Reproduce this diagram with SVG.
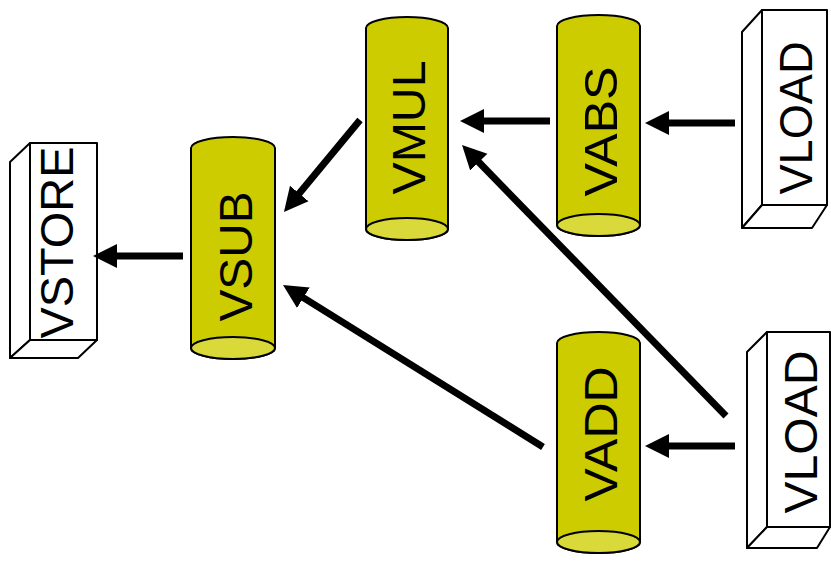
<svg xmlns="http://www.w3.org/2000/svg" width="831" height="573" viewBox="0 0 831 573">
  <style>
    .box { fill: #ffffff; stroke: #000000; stroke-width: 2; stroke-linejoin: round; }
    .can { fill: #cccc00; stroke: #000000; stroke-width: 2; }
    .cap { fill: #d9d93a; stroke: #000000; stroke-width: 2; }
    .lbl { font-family: "Liberation Sans", Arial, sans-serif; font-size: 46px; fill: #000000; text-anchor: middle; }
    .edge { stroke: #000000; stroke-width: 7; fill: none; marker-end: url(#head); }
  </style>
  <defs>
    <marker id="head" markerUnits="userSpaceOnUse" markerWidth="26" markerHeight="26" viewBox="0 -13 26 26" refX="4" refY="0" orient="auto">
      <path d="M0,-12 L24,0 L0,12 Z" fill="#000000"/>
    </marker>
  </defs>

  <!-- storage blocks (extruded boxes) -->
  <g id="vstore">
    <path class="box" d="M30,143 L10,162 L10,358 L30,340 Z"/>
    <path class="box" d="M30,340 L97,340 L78,358 L10,358 Z"/>
    <rect class="box" x="30" y="143" width="67" height="197"/>
    <text class="lbl" transform="translate(73,242.5) rotate(-90)" textLength="192" lengthAdjust="spacingAndGlyphs">VSTORE</text>
  </g>

  <g id="vload1">
    <path class="box" d="M762,10 L742,32 L742,228 L762,205 Z"/>
    <path class="box" d="M762,205 L827,205 L812,228 L742,228 Z"/>
    <rect class="box" x="762" y="10" width="65" height="195"/>
    <text class="lbl" transform="translate(812,118) rotate(-90)" textLength="153" lengthAdjust="spacingAndGlyphs">VLOAD</text>
  </g>

  <g id="vload2">
    <path class="box" d="M767,332 L747,352 L747,548 L767,527 Z"/>
    <path class="box" d="M767,527 L830,527 L817,548 L747,548 Z"/>
    <rect class="box" x="767" y="332" width="63" height="195"/>
    <text class="lbl" transform="translate(817,432) rotate(-90)" textLength="163" lengthAdjust="spacingAndGlyphs">VLOAD</text>
  </g>

  <!-- operation cylinders -->
  <g id="vsub">
    <path class="can" d="M191,148 A42,11 0 0 1 275,148 L275,348 A42,11 0 0 1 191,348 Z"/>
    <ellipse class="cap" cx="233" cy="348" rx="42" ry="11"/>
    <text class="lbl" transform="translate(252,256.5) rotate(-90)" textLength="130" lengthAdjust="spacingAndGlyphs">VSUB</text>
  </g>

  <g id="vmul">
    <path class="can" d="M366,28 A41,11 0 0 1 448,28 L448,229 A41,11 0 0 1 366,229 Z"/>
    <ellipse class="cap" cx="407" cy="229" rx="41" ry="11"/>
    <text class="lbl" transform="translate(425,127.5) rotate(-90)" textLength="134" lengthAdjust="spacingAndGlyphs">VMUL</text>
  </g>

  <g id="vabs">
    <path class="can" d="M557,26 A41.5,11 0 0 1 640,26 L640,225 A41.5,11 0 0 1 557,225 Z"/>
    <ellipse class="cap" cx="598.5" cy="225" rx="41.5" ry="11"/>
    <text class="lbl" transform="translate(617,131.5) rotate(-90)" textLength="130" lengthAdjust="spacingAndGlyphs">VABS</text>
  </g>

  <g id="vadd">
    <path class="can" d="M557,343 A41.5,11 0 0 1 640,343 L640,542 A41.5,11 0 0 1 557,542 Z"/>
    <ellipse class="cap" cx="598.5" cy="542" rx="41.5" ry="11"/>
    <text class="lbl" transform="translate(617,434) rotate(-90)" textLength="135" lengthAdjust="spacingAndGlyphs">VADD</text>
  </g>

  <!-- data-flow connectors -->
  <g id="connectors">
    <line class="edge" x1="735" y1="123" x2="665" y2="123"/>
    <line class="edge" x1="550" y1="121" x2="480" y2="121"/>
    <line class="edge" x1="360" y1="120" x2="296.7" y2="196.6"/>
    <line class="edge" x1="183" y1="256" x2="113" y2="256"/>
    <line class="edge" x1="735" y1="446" x2="665" y2="446"/>
    <line class="edge" x1="726" y1="416" x2="476" y2="159.3"/>
    <line class="edge" x1="543" y1="447" x2="300" y2="295.6"/>
  </g>
</svg>
